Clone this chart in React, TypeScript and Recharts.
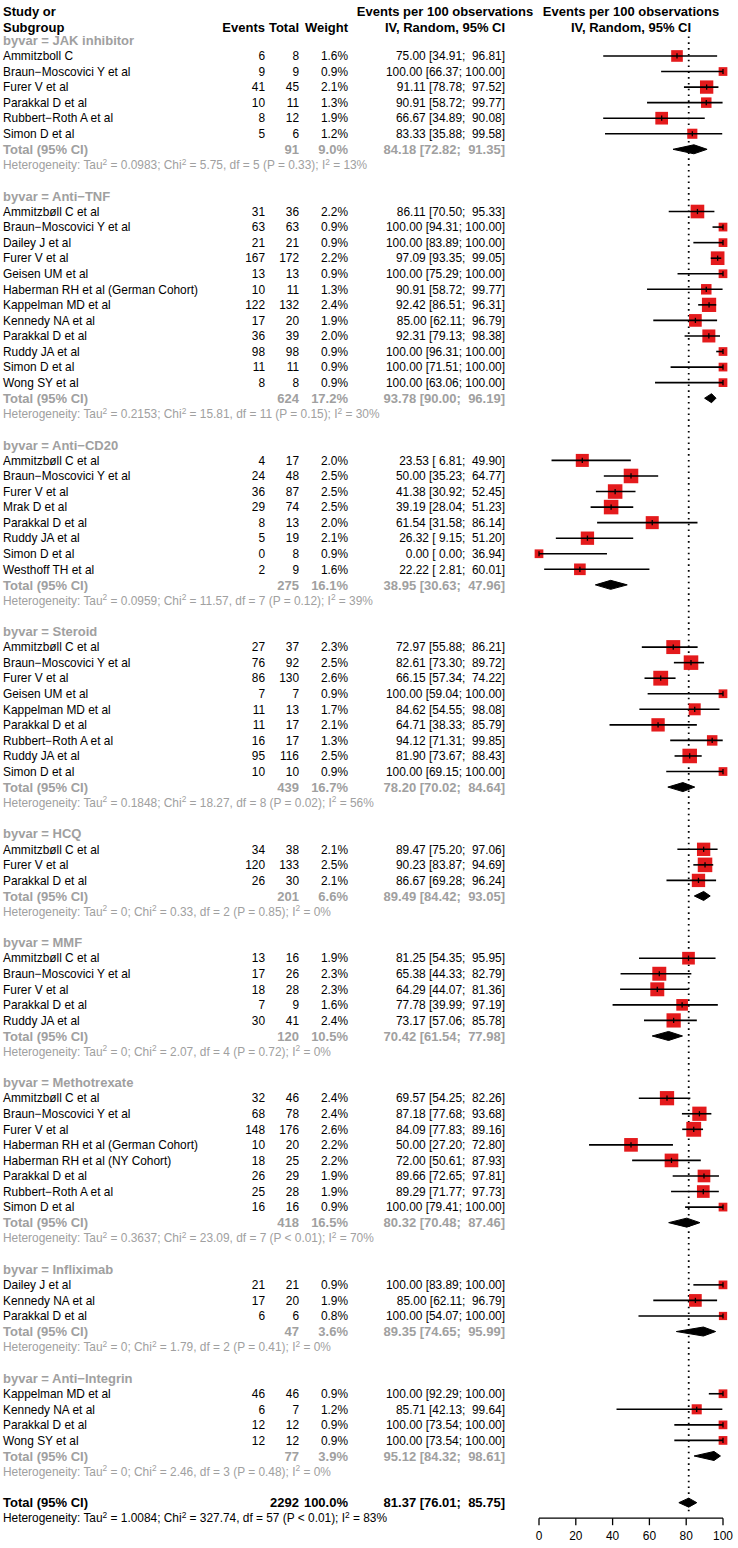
import React from "react";
import { ComposedChart, Scatter, XAxis, YAxis, ZAxis, ReferenceLine } from "recharts";

// [study, events, total, weight %, estimate, lower, upper]
type Study = [string, number, number, number, number, number, number];

const groupLabels = [
  "JAK inhibitor",
  "Anti\u2212TNF",
  "Anti\u2212CD20",
  "Steroid",
  "HCQ",
  "MMF",
  "Methotrexate",
  "Infliximab",
  "Anti\u2212Integrin",
];

const jakStudies: Study[] = [
  ["Ammitzboll C", 6, 8, 1.6, 75.0, 34.91, 96.81],
  ["Braun\u2212Moscovici Y et al", 9, 9, 0.9, 100.0, 66.37, 100.0],
  ["Furer V et al", 41, 45, 2.1, 91.11, 78.78, 97.52],
  ["Parakkal D et al", 10, 11, 1.3, 90.91, 58.72, 99.77],
  ["Rubbert\u2212Roth A et al", 8, 12, 1.9, 66.67, 34.89, 90.08],
  ["Simon D et al", 5, 6, 1.2, 83.33, 35.88, 99.58],
];

const antiTnfStudies: Study[] = [
  ["Ammitzbøll C et al", 31, 36, 2.2, 86.11, 70.5, 95.33],
  ["Braun\u2212Moscovici Y et al", 63, 63, 0.9, 100.0, 94.31, 100.0],
  ["Dailey J et al", 21, 21, 0.9, 100.0, 83.89, 100.0],
  ["Furer V et al", 167, 172, 2.2, 97.09, 93.35, 99.05],
  ["Geisen UM et al", 13, 13, 0.9, 100.0, 75.29, 100.0],
  ["Haberman RH et al (German Cohort)", 10, 11, 1.3, 90.91, 58.72, 99.77],
  ["Kappelman MD et al", 122, 132, 2.4, 92.42, 86.51, 96.31],
  ["Kennedy NA et al", 17, 20, 1.9, 85.0, 62.11, 96.79],
  ["Parakkal D et al", 36, 39, 2.0, 92.31, 79.13, 98.38],
  ["Ruddy JA et al", 98, 98, 0.9, 100.0, 96.31, 100.0],
  ["Simon D et al", 11, 11, 0.9, 100.0, 71.51, 100.0],
  ["Wong SY et al", 8, 8, 0.9, 100.0, 63.06, 100.0],
];

const antiCd20Studies: Study[] = [
  ["Ammitzbøll C et al", 4, 17, 2.0, 23.53, 6.81, 49.9],
  ["Braun\u2212Moscovici Y et al", 24, 48, 2.5, 50.0, 35.23, 64.77],
  ["Furer V et al", 36, 87, 2.5, 41.38, 30.92, 52.45],
  ["Mrak D et al", 29, 74, 2.5, 39.19, 28.04, 51.23],
  ["Parakkal D et al", 8, 13, 2.0, 61.54, 31.58, 86.14],
  ["Ruddy JA et al", 5, 19, 2.1, 26.32, 9.15, 51.2],
  ["Simon D et al", 0, 8, 0.9, 0.0, 0.0, 36.94],
  ["Westhoff TH et al", 2, 9, 1.6, 22.22, 2.81, 60.01],
];

const steroidStudies: Study[] = [
  ["Ammitzbøll C et al", 27, 37, 2.3, 72.97, 55.88, 86.21],
  ["Braun\u2212Moscovici Y et al", 76, 92, 2.5, 82.61, 73.3, 89.72],
  ["Furer V et al", 86, 130, 2.6, 66.15, 57.34, 74.22],
  ["Geisen UM et al", 7, 7, 0.9, 100.0, 59.04, 100.0],
  ["Kappelman MD et al", 11, 13, 1.7, 84.62, 54.55, 98.08],
  ["Parakkal D et al", 11, 17, 2.1, 64.71, 38.33, 85.79],
  ["Rubbert\u2212Roth A et al", 16, 17, 1.3, 94.12, 71.31, 99.85],
  ["Ruddy JA et al", 95, 116, 2.5, 81.9, 73.67, 88.43],
  ["Simon D et al", 10, 10, 0.9, 100.0, 69.15, 100.0],
];

const hcqStudies: Study[] = [
  ["Ammitzbøll C et al", 34, 38, 2.1, 89.47, 75.2, 97.06],
  ["Furer V et al", 120, 133, 2.5, 90.23, 83.87, 94.69],
  ["Parakkal D et al", 26, 30, 2.1, 86.67, 69.28, 96.24],
];

const mmfStudies: Study[] = [
  ["Ammitzbøll C et al", 13, 16, 1.9, 81.25, 54.35, 95.95],
  ["Braun\u2212Moscovici Y et al", 17, 26, 2.3, 65.38, 44.33, 82.79],
  ["Furer V et al", 18, 28, 2.3, 64.29, 44.07, 81.36],
  ["Parakkal D et al", 7, 9, 1.6, 77.78, 39.99, 97.19],
  ["Ruddy JA et al", 30, 41, 2.4, 73.17, 57.06, 85.78],
];

const mtxStudies: Study[] = [
  ["Ammitzbøll C et al", 32, 46, 2.4, 69.57, 54.25, 82.26],
  ["Braun\u2212Moscovici Y et al", 68, 78, 2.4, 87.18, 77.68, 93.68],
  ["Furer V et al", 148, 176, 2.6, 84.09, 77.83, 89.16],
  ["Haberman RH et al (German Cohort)", 10, 20, 2.2, 50.0, 27.2, 72.8],
  ["Haberman RH et al (NY Cohort)", 18, 25, 2.2, 72.0, 50.61, 87.93],
  ["Parakkal D et al", 26, 29, 1.9, 89.66, 72.65, 97.81],
  ["Rubbert\u2212Roth A et al", 25, 28, 1.9, 89.29, 71.77, 97.73],
  ["Simon D et al", 16, 16, 0.9, 100.0, 79.41, 100.0],
];

const inflixStudies: Study[] = [
  ["Dailey J et al", 21, 21, 0.9, 100.0, 83.89, 100.0],
  ["Kennedy NA et al", 17, 20, 1.9, 85.0, 62.11, 96.79],
  ["Parakkal D et al", 6, 6, 0.8, 100.0, 54.07, 100.0],
];

const integrinStudies: Study[] = [
  ["Kappelman MD et al", 46, 46, 0.9, 100.0, 92.29, 100.0],
  ["Kennedy NA et al", 6, 7, 1.2, 85.71, 42.13, 99.64],
  ["Parakkal D et al", 12, 12, 0.9, 100.0, 73.54, 100.0],
  ["Wong SY et al", 12, 12, 0.9, 100.0, 73.54, 100.0],
];

const studiesByGroup = [
  jakStudies,
  antiTnfStudies,
  antiCd20Studies,
  steroidStudies,
  hcqStudies,
  mmfStudies,
  mtxStudies,
  inflixStudies,
  integrinStudies,
];

// [total, weight %, estimate, lower, upper]
const groupTotals: number[][] = [
  [91, 9.0, 84.18, 72.82, 91.35],
  [624, 17.2, 93.78, 90.0, 96.19],
  [275, 16.1, 38.95, 30.63, 47.96],
  [439, 16.7, 78.2, 70.02, 84.64],
  [201, 6.6, 89.49, 84.42, 93.05],
  [120, 10.5, 70.42, 61.54, 77.98],
  [418, 16.5, 80.32, 70.48, 87.46],
  [47, 3.6, 89.35, 74.65, 95.99],
  [77, 3.9, 95.12, 84.32, 98.61],
];

// [tau2, chi2, df, p, I2]
const groupHet: (string | number)[][] = [
  ["0.0983", "5.75", 5, "= 0.33", 13],
  ["0.2153", "15.81", 11, "= 0.15", 30],
  ["0.0959", "11.57", 7, "= 0.12", 39],
  ["0.1848", "18.27", 8, "= 0.02", 56],
  ["0", "0.33", 2, "= 0.85", 0],
  ["0", "2.07", 4, "= 0.72", 0],
  ["0.3637", "23.09", 7, "< 0.01", 70],
  ["0", "1.79", 2, "= 0.41", 0],
  ["0", "2.46", 3, "= 0.48", 0],
];

const overallTotal = [2292, 100.0, 81.37, 76.01, 85.75];
const overallHet: (string | number)[] = ["1.0084", "327.74", 57, "< 0.01", 83];
const xTicks = [0, 20, 40, 60, 80, 100];

// ---------- layout / style ----------
const FS = 11.9;
const FSB = 13;
const FF = "'Liberation Sans', Arial, Helvetica, sans-serif";
const GREY = "#A0A0A0";
const RED = "#E41A1C";
const X_NAME = 3;
const X_EV = 265;
const X_TOT = 299;
const X_W = 348;
const X_CI = 505;
const X_HDR1 = 445;
const X_HDR2 = 631;
const DIAMOND_H = 0.29;

const f2 = (v: number) => v.toFixed(2);
const ciText = (e: number, lo: number, hi: number) =>
  `${f2(e)} [${f2(lo).padStart(5)}; ${f2(hi).padStart(6)}]`;

// ---------- build rows ----------
type Row = { x: number; y: number; kind: string; [k: string]: any };
const textRows: Row[] = [];
const studyRows: Row[] = [];
const ciLines: { x: number; y: number }[][] = [];
const diamonds: { x: number; y: number }[][] = [];

const diamondPts = (y: number, e: number, lo: number, hi: number) => [
  { x: lo, y },
  { x: e, y: y - DIAMOND_H },
  { x: hi, y },
  { x: e, y: y + DIAMOND_H },
  { x: lo, y },
];

textRows.push({ x: 0, y: -1.85, kind: "header1" });
textRows.push({ x: 0, y: -0.85, kind: "header2" });

let r = 0;
groupLabels.forEach((g, gi) => {
  textRows.push({ x: 0, y: r, kind: "title", label: "byvar = " + g });
  r++;
  studiesByGroup[gi].forEach((s) => {
    textRows.push({ x: 0, y: r, kind: "study", name: s[0], ev: s[1], tot: s[2], w: s[3], e: s[4], lo: s[5], hi: s[6] });
    studyRows.push({ x: s[4], y: r, kind: "sq", w: s[3] });
    ciLines.push([{ x: s[5], y: r }, { x: s[6], y: r }]);
    r++;
  });
  const t = groupTotals[gi];
  textRows.push({ x: 0, y: r, kind: "total", tot: t[0], w: t[1], e: t[2], lo: t[3], hi: t[4] });
  diamonds.push(diamondPts(r, t[2], t[3], t[4]));
  r++;
  textRows.push({ x: 0, y: r, kind: "het", het: groupHet[gi] });
  r++;
  r++; // blank line
});
textRows.push({
  x: 0, y: r, kind: "overall",
  tot: overallTotal[0], w: overallTotal[1], e: overallTotal[2], lo: overallTotal[3], hi: overallTotal[4],
});
diamonds.push(diamondPts(r, overallTotal[2], overallTotal[3], overallTotal[4]));
textRows.push({ x: 0, y: r + 1, kind: "overallHet", het: overallHet });

// ---------- text helpers ----------
const Txt = (p: { x: number; y: number; anchor?: string; bold?: boolean; color?: string; children: any }) => {
  const fs = p.bold ? FSB : FS;
  return (
    <text
      x={p.x}
      y={p.y + fs * 0.36}
      textAnchor={(p.anchor || "start") as any}
      fontWeight={p.bold ? "bold" : "normal"}
      fill={p.color || "#000"}
      fontSize={fs}
      fontFamily={FF}
      style={{ whiteSpace: "pre" }}
    >
      {p.children}
    </text>
  );
};

const hetLine = (h: (string | number)[], y: number, color: string) => {
  const up = FS * 0.38;
  return (
    <text x={X_NAME} y={y + FS * 0.36} fill={color} fontSize={FS} fontFamily={FF} style={{ whiteSpace: "pre" }}>
      <tspan>Heterogeneity: Tau</tspan>
      <tspan fontSize={FS * 0.7} dy={-up}>2</tspan>
      <tspan dy={up}>{` = ${h[0]}; Chi`}</tspan>
      <tspan fontSize={FS * 0.7} dy={-up}>2</tspan>
      <tspan dy={up}>{` = ${h[1]}, df = ${h[2]} (P ${h[3]}); I`}</tspan>
      <tspan fontSize={FS * 0.7} dy={-up}>2</tspan>
      <tspan dy={up}>{` = ${h[4]}%`}</tspan>
    </text>
  );
};

const RowShape = (props: any) => {
  const { cy, payload: p } = props;
  if (cy == null || !p) return <g />;
  switch (p.kind) {
    case "header1":
      return (
        <g>
          <Txt x={X_NAME} y={cy} bold>Study or</Txt>
          <Txt x={X_HDR1} y={cy} bold anchor="middle">Events per 100 observations</Txt>
          <Txt x={X_HDR2} y={cy} bold anchor="middle">Events per 100 observations</Txt>
        </g>
      );
    case "header2":
      return (
        <g>
          <Txt x={X_NAME} y={cy} bold>Subgroup</Txt>
          <Txt x={X_EV} y={cy} bold anchor="end">Events</Txt>
          <Txt x={X_TOT} y={cy} bold anchor="end">Total</Txt>
          <Txt x={X_W} y={cy} bold anchor="end">Weight</Txt>
          <Txt x={X_HDR1} y={cy} bold anchor="middle">IV, Random, 95% CI</Txt>
          <Txt x={X_HDR2} y={cy} bold anchor="middle">IV, Random, 95% CI</Txt>
        </g>
      );
    case "title":
      return <Txt x={X_NAME} y={cy} bold color={GREY}>{p.label}</Txt>;
    case "study":
      return (
        <g>
          <Txt x={X_NAME} y={cy}>{p.name}</Txt>
          <Txt x={X_EV} y={cy} anchor="end">{String(p.ev)}</Txt>
          <Txt x={X_TOT} y={cy} anchor="end">{String(p.tot)}</Txt>
          <Txt x={X_W} y={cy} anchor="end">{p.w.toFixed(1) + "%"}</Txt>
          <Txt x={X_CI} y={cy} anchor="end">{ciText(p.e, p.lo, p.hi)}</Txt>
        </g>
      );
    case "total":
    case "overall": {
      const c = p.kind === "total" ? GREY : "#000";
      return (
        <g>
          <Txt x={X_NAME} y={cy} bold color={c}>Total (95% CI)</Txt>
          <Txt x={X_TOT} y={cy} bold color={c} anchor="end">{String(p.tot)}</Txt>
          <Txt x={X_W} y={cy} bold color={c} anchor="end">{p.w.toFixed(1) + "%"}</Txt>
          <Txt x={X_CI} y={cy} bold color={c} anchor="end">{ciText(p.e, p.lo, p.hi)}</Txt>
        </g>
      );
    }
    case "het":
      return hetLine(p.het, cy, GREY);
    case "overallHet":
      return hetLine(p.het, cy, "#000");
  }
  return <g />;
};

const SquareShape = (props: any) => {
  const { cx, cy, size, payload } = props;
  if (cx == null || cy == null) return <g />;
  const side = size ? Math.sqrt(size) : 9.2 * Math.sqrt(payload.w);
  return <rect x={cx - side / 2} y={cy - side / 2} width={side} height={side} fill={RED} />;
};

const TickShape = (props: any) => {
  const { cx, cy } = props;
  if (cx == null || cy == null) return <g />;
  return <line x1={cx} x2={cx} y1={cy - 2.6} y2={cy + 2.6} stroke="#000" strokeWidth={1.3} />;
};

const Empty = () => <g />;

export default function App() {
  return (
    <div style={{ position: "absolute", left: 0, top: 0, width: 738, height: 1548, background: "#fff" }}>
      <ComposedChart width={738} height={1548} margin={{ top: 9.3, right: 15, bottom: 0.8, left: 539 }}>
        <XAxis
          type="number"
          dataKey="x"
          domain={[0, 100]}
          ticks={xTicks}
          interval={0}
          tickSize={7}
          tickMargin={6}
          height={29}
          axisLine={{ stroke: "#000", strokeWidth: 1.3 }}
          tickLine={{ stroke: "#000", strokeWidth: 1.3 }}
          tick={{ fill: "#000", fontSize: FS, fontFamily: FF }}
        />
        <YAxis type="number" dataKey="y" domain={[-2, 95]} reversed hide />
        <ZAxis zAxisId="w" type="number" dataKey="w" domain={[0, 2.6]} range={[0, 2.6 * 84.6]} />
        <ReferenceLine
          segment={[
            { x: overallTotal[2], y: -0.25 },
            { x: overallTotal[2], y: 94.55 },
          ]}
          stroke="#000"
          strokeWidth={1.8}
          strokeDasharray="1.6 4.2"
        />
        <Scatter data={textRows} shape={RowShape} isAnimationActive={false} />
        <Scatter data={studyRows} zAxisId="w" shape={SquareShape} isAnimationActive={false} />
        {ciLines.map((pts, i) => (
          <Scatter
            key={"ci" + i}
            data={pts}
            shape={Empty}
            line={{ stroke: "#000", strokeWidth: 1.6 }}
            isAnimationActive={false}
          />
        ))}
        <Scatter data={studyRows} shape={TickShape} isAnimationActive={false} />
        {diamonds.map((pts, i) => (
          <Scatter
            key={"d" + i}
            data={pts}
            shape={Empty}
            line={{ stroke: "#000", fill: "#000", strokeWidth: 1 }}
            isAnimationActive={false}
          />
        ))}
      </ComposedChart>
    </div>
  );
}
